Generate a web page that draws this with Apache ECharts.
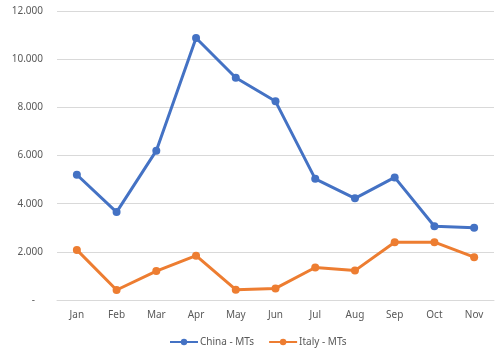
<!DOCTYPE html>
<html><head><meta charset="utf-8">
<script src="https://cdn.jsdelivr.net/npm/echarts@6/dist/echarts.min.js"></script>
<style>html,body{margin:0;padding:0;background:#fff}#c{width:500px;height:360px}</style>
</head><body><div id="c"></div>
<script>
const months = ['Jan','Feb','Mar','Apr','May','Jun','Jul','Aug','Sep','Oct','Nov'];
const china = [5200,3650,6200,10880,9230,8250,5030,4220,5090,3060,3000];
const italy = [2080,415,1200,1840,430,480,1350,1220,2400,2400,1780];
const yTicks = {min:0, max:12000, interval:2000};

const chart = echarts.init(document.getElementById('c'), null, {renderer:'canvas'});
const font = 'Noto Sans';
chart.setOption({
  animation:false,
  grid:{left:57, right:6, top:11, bottom:60, containLabel:false},
  legend:{
    bottom:8, left:164, itemWidth:28, itemHeight:8, itemGap:14,
    textStyle:{color:'#595959', fontFamily:font, fontSize:10, padding:[0,0,0,-3]},
    data:['China - MTs','Italy - MTs']
  },
  xAxis:{
    type:'category', data:months, boundaryGap:true,
    axisLine:{lineStyle:{color:'#d9d9d9'}}, axisTick:{show:false},
    axisLabel:{color:'#595959', fontFamily:font, fontSize:10, margin:10}
  },
  yAxis:{
    type:'value', min:yTicks.min, max:yTicks.max, interval:yTicks.interval,
    axisLine:{show:false}, axisTick:{show:false},
    splitLine:{lineStyle:{color:'#d9d9d9'}},
    axisLabel:{color:'#595959', fontFamily:font, fontSize:10, margin:14,
      formatter:v => v===0 ? '{d|-}' : (v/1000).toFixed(3),
      rich:{d:{padding:[0,8,0,0], color:'#595959', fontFamily:font, fontSize:10}}}
  },
  series:[
    {name:'China - MTs', type:'line', data:china, symbol:'circle', symbolSize:8,
     lineStyle:{width:3, color:'#4472C4'}, itemStyle:{color:'#4472C4'}},
    {name:'Italy - MTs', type:'line', data:italy, symbol:'circle', symbolSize:8,
     lineStyle:{width:3, color:'#ED7D31'}, itemStyle:{color:'#ED7D31'}}
  ]
});
</script></body></html>
